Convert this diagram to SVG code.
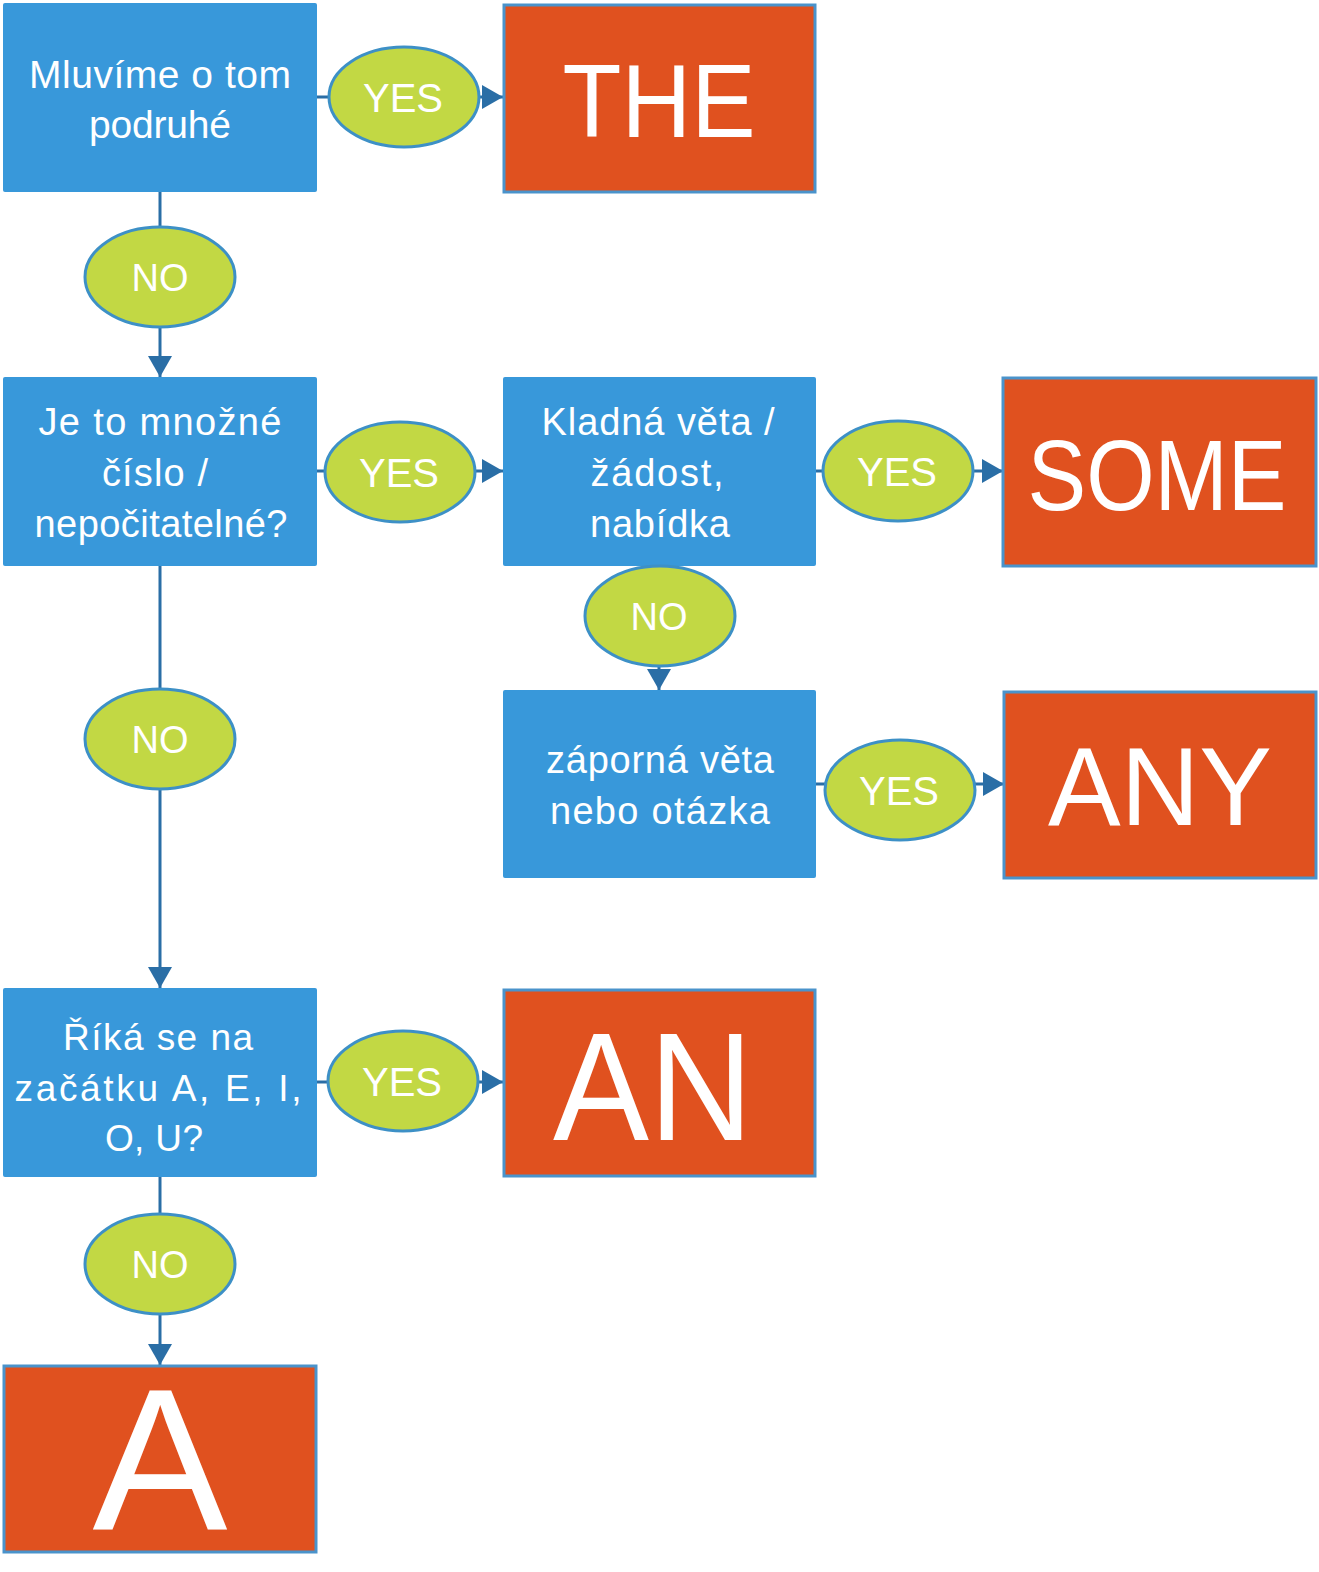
<svg xmlns="http://www.w3.org/2000/svg" width="1319" height="1572" viewBox="0 0 1319 1572">
<style>
.q{fill:#3898DA;}
.r{fill:#E0511F;stroke:#4A93CB;stroke-width:3;}
.e{fill:#C2D844;stroke:#3D90C6;stroke-width:3;}
.t{font-family:"Liberation Sans",Arial,sans-serif;fill:#FFFFFF;text-anchor:middle;}
.b{font-family:"Liberation Sans",Arial,sans-serif;fill:#FFFFFF;text-anchor:middle;}
.c{stroke:#2A6EA6;stroke-width:3;fill:none;marker-end:url(#ah);}
</style>
<defs>
<marker id="ah" markerUnits="userSpaceOnUse" markerWidth="22" markerHeight="26" refX="21" refY="12" orient="auto">
<path d="M0,0 L21,12 L0,24 z" fill="#2A6EA6"/>
</marker>
</defs>
<rect width="1319" height="1572" fill="#FFFFFF"/>
<g id="connectors">
<line class="c" x1="317" y1="97" x2="503" y2="97"/>
<line class="c" x1="160" y1="192" x2="160" y2="377"/>
<line class="c" x1="317" y1="471" x2="503" y2="471"/>
<line class="c" x1="816" y1="471" x2="1003" y2="471"/>
<line class="c" x1="659" y1="566" x2="659" y2="690"/>
<line class="c" x1="816" y1="784" x2="1004" y2="784"/>
<line class="c" x1="160" y1="566" x2="160" y2="988"/>
<line class="c" x1="317" y1="1082" x2="503" y2="1082"/>
<line class="c" x1="160" y1="1177" x2="160" y2="1365"/>
</g>
<g id="q1">
<rect class="q" x="3" y="3" width="314" height="189" rx="2"/>
<text class="t" font-size="39" x="160" y="88" textLength="262">Mluvíme o tom</text>
<text class="t" font-size="39" x="160" y="138" textLength="142">podruhé</text>
</g>
<g id="the">
<rect class="r" x="504" y="5" width="311" height="187"/>
<text class="b" font-size="103" x="659" y="137" textLength="193" lengthAdjust="spacingAndGlyphs">THE</text>
</g>
<g id="q2">
<rect class="q" x="3" y="377" width="314" height="189" rx="2"/>
<text class="t" font-size="38" x="160" y="435" textLength="243">Je to množné</text>
<text class="t" font-size="38" x="155" y="486" textLength="106">číslo /</text>
<text class="t" font-size="38" x="161" y="537" textLength="253">nepočitatelné?</text>
</g>
<g id="q3">
<rect class="q" x="503" y="377" width="313" height="189" rx="2"/>
<text class="t" font-size="38" x="658" y="435" textLength="233">Kladná věta /</text>
<text class="t" font-size="38" x="657" y="486" textLength="133">žádost,</text>
<text class="t" font-size="38" x="660" y="537" textLength="140">nabídka</text>
</g>
<g id="some">
<rect class="r" x="1003" y="378" width="313" height="188"/>
<text class="b" font-size="100" x="1157" y="510" textLength="259" lengthAdjust="spacingAndGlyphs">SOME</text>
</g>
<g id="q4">
<rect class="q" x="503" y="690" width="313" height="188" rx="2"/>
<text class="t" font-size="38" x="660" y="773" textLength="228">záporná věta</text>
<text class="t" font-size="38" x="660" y="824" textLength="220">nebo otázka</text>
</g>
<g id="any">
<rect class="r" x="1004" y="692" width="312" height="186"/>
<text class="b" font-size="112" x="1160" y="825" textLength="224" lengthAdjust="spacingAndGlyphs">ANY</text>
</g>
<g id="q5">
<rect class="q" x="3" y="988" width="314" height="189" rx="2"/>
<text class="t" font-size="37" x="158" y="1050" textLength="190">Říká se na</text>
<text class="t" font-size="37" x="158" y="1101" textLength="287">začátku A, E, I,</text>
<text class="t" font-size="37" x="154" y="1151" textLength="98">O, U?</text>
</g>
<g id="an">
<rect class="r" x="504" y="990" width="311" height="186"/>
<text class="b" font-size="154" x="653" y="1140" textLength="200" lengthAdjust="spacingAndGlyphs">AN</text>
</g>
<g id="a">
<rect class="r" x="4" y="1366" width="312" height="186"/>
<text class="b" font-size="202" x="160" y="1530" textLength="135" lengthAdjust="spacingAndGlyphs">A</text>
</g>
<g id="yes1"><ellipse class="e" cx="404" cy="97" rx="75" ry="50"/><text class="t" font-size="40" x="403" y="112">YES</text></g>
<g id="yes2"><ellipse class="e" cx="400" cy="472" rx="75" ry="50"/><text class="t" font-size="40" x="399" y="487">YES</text></g>
<g id="yes3"><ellipse class="e" cx="898" cy="471" rx="75" ry="50"/><text class="t" font-size="40" x="897" y="486">YES</text></g>
<g id="yes4"><ellipse class="e" cx="900" cy="790" rx="75" ry="50"/><text class="t" font-size="40" x="899" y="805">YES</text></g>
<g id="yes5"><ellipse class="e" cx="403" cy="1081" rx="75" ry="50"/><text class="t" font-size="40" x="402" y="1096">YES</text></g>
<g id="no1"><ellipse class="e" cx="160" cy="277" rx="75" ry="50"/><text class="t" font-size="38" x="160" y="291">NO</text></g>
<g id="no2"><ellipse class="e" cx="160" cy="739" rx="75" ry="50"/><text class="t" font-size="38" x="160" y="753">NO</text></g>
<g id="no3"><ellipse class="e" cx="660" cy="616" rx="75" ry="50"/><text class="t" font-size="38" x="659" y="630">NO</text></g>
<g id="no4"><ellipse class="e" cx="160" cy="1264" rx="75" ry="50"/><text class="t" font-size="38" x="160" y="1278">NO</text></g>
</svg>
